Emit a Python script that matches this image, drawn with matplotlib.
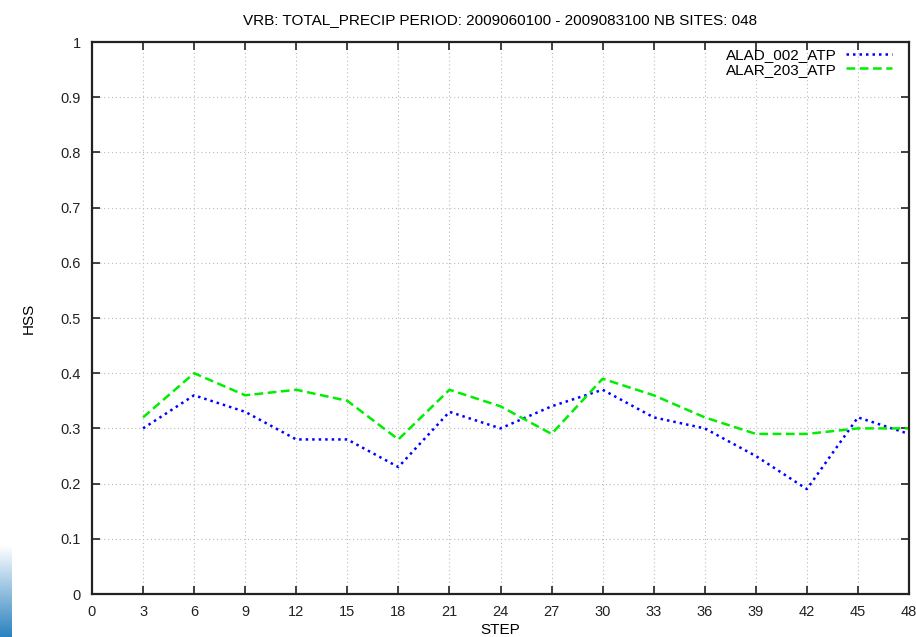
import numpy as np
import matplotlib
matplotlib.use("Agg")
import matplotlib.pyplot as plt

plt.rcParams['font.family'] = ['Liberation Sans', 'DejaVu Sans']

steps = [3, 6, 9, 12, 15, 18, 21, 24, 27, 30, 33, 36, 39, 42, 45, 48]
alad = [0.30, 0.36, 0.33, 0.28, 0.28, 0.23, 0.33, 0.30, 0.34, 0.37, 0.32, 0.30, 0.25, 0.19, 0.32, 0.29]
alar = [0.32, 0.40, 0.36, 0.37, 0.35, 0.28, 0.37, 0.34, 0.29, 0.39, 0.36, 0.32, 0.29, 0.29, 0.30, 0.30]
xticks = list(range(0, 49, 3))
yticks = [0, 0.1, 0.2, 0.3, 0.4, 0.5, 0.6, 0.7, 0.8, 0.9, 1]
ytick_labels = ['0', '0.1', '0.2', '0.3', '0.4', '0.5', '0.6', '0.7', '0.8', '0.9', '1']

fig = plt.figure(figsize=(9.16, 6.37), dpi=100)
ax = fig.add_axes([92 / 916, 43 / 637, 817 / 916, 552 / 637])

ax.plot(steps, alad, color='#0000ff', linestyle=(0, (1, 1.6)), linewidth=1.8, label='ALAD_002_ATP')
ax.plot(steps, alar, color='#00ee00', linestyle=(0, (3.5, 1.8)), linewidth=1.8, label='ALAR_203_ATP')

ax.set_xlim(0, 48)
ax.set_ylim(0, 1)
ax.set_xticks(xticks)
ax.set_yticks(yticks)
ax.set_yticklabels(ytick_labels)
ax.tick_params(direction='in', length=6, width=1.2, top=True, right=True,
               labelsize=10.5, pad=8, colors='#222222')
ax.grid(True, color='#bbbbbb', linestyle=(0, (1, 2.5)), linewidth=0.8)
for s in ax.spines.values():
    s.set_linewidth(1.6)
    s.set_color('#222222')

ax.set_title('VRB: TOTAL_PRECIP PERIOD: 2009060100 - 2009083100 NB SITES: 048',
             fontsize=11, pad=13)
ax.set_xlabel('STEP', fontsize=11)
ax.xaxis.set_label_coords(0.5, -0.052)
ax.set_ylabel('HSS', fontsize=11)
ax.yaxis.set_label_coords(-56 / 817, 0.5)

leg = ax.legend(loc='upper right', bbox_to_anchor=(1 - 17 / 817, 1 - 6 / 552),
                frameon=False, markerfirst=False, fontsize=11,
                handlelength=3.0, borderaxespad=0, labelspacing=0.05, handletextpad=0.6,
                borderpad=0)

# screenshot strip at the bottom left
gax = fig.add_axes([0, 0, 12 / 916, 92 / 637])
grad = np.linspace(0, 1, 100).reshape(-1, 1)
cmap = matplotlib.colors.LinearSegmentedColormap.from_list('g', ['#2b82c0', '#ffffff'])
gax.imshow(grad, aspect='auto', cmap=cmap, origin='lower')
gax.axis('off')

fig.savefig('out.png', dpi=100)
